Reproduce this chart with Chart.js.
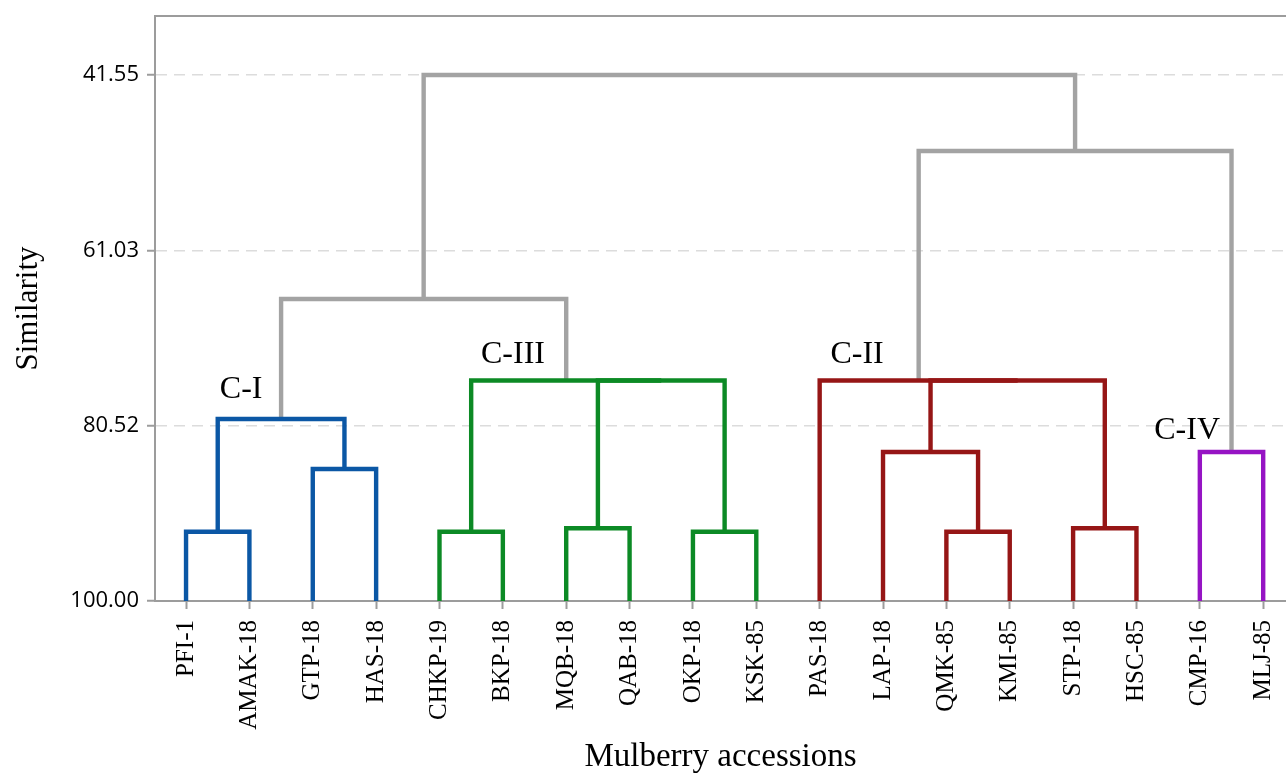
<!DOCTYPE html>
<html>
<head>
<meta charset="utf-8">
<title>Mulberry accessions dendrogram</title>
<script src="https://cdn.jsdelivr.net/npm/chart.js@4.4.1/dist/chart.umd.min.js"></script>
<style>
  html, body { margin: 0; padding: 0; background: #fff; }
  canvas { display: block; }
</style>
</head>
<body>
<canvas id="dendro" width="1286" height="774"></canvas>
<script>
// leaves, left to right
const accessions = ["PFI-1", "AMAK-18", "GTP-18", "HAS-18", "CHKP-19", "BKP-18", "MQB-18", "QAB-18",
  "OKP-18", "KSK-85", "PAS-18", "LAP-18", "QMK-85", "KMI-85", "STP-18", "HSC-85", "CMP-16", "MLJ-85"];

// merges: ids 0..17 are the leaves, merge m creates node id 18 + m
const mergeLeft   = [0, 2, 18, 4, 6, 8, 22, 21, 20, 12, 14, 11, 29, 10, 16, 31, 26];
const mergeRight  = [1, 3, 19, 5, 7, 9, 23, 24, 25, 13, 15, 27, 28, 30, 17, 32, 33];
const mergeHeight = [92.3, 85.33, 79.78, 92.3, 91.92, 92.3, 75.5, 75.5, 66.44,
  92.3, 91.92, 83.44, 75.5, 75.5, 83.44, 50.0, 41.55];
const mergeGroup  = ["C-I", "C-I", "C-I", "C-III", "C-III", "C-III", "C-III", "C-III", "none",
  "C-II", "C-II", "C-II", "C-II", "C-II", "C-IV", "none", "none"];

// y axis tick values (similarity)
const yTicks = [41.55, 61.03, 80.52, 100.00];

// cluster captions
const clusterNames = ["C-I", "C-III", "C-II", "C-IV"];
const clusterX = [0.87, 5.16, 10.59, 15.8];
const clusterY = [76.55, 72.66, 72.66, 81.11];

const groupColors = {
  "C-I": "#0b57a5",
  "C-III": "#0c8a25",
  "C-II": "#961616",
  "C-IV": "#9614c4",
  "none": "#a3a3a3"
};
const axisGray = "#9c9c9c";
const serif = "'Liberation Serif', 'Times New Roman', serif";

// build one polyline per merge (left leg, bar, right leg)
const nodeX = accessions.map((_, i) => i);
const nodeY = accessions.map(() => 100);
const datasets = [];
mergeLeft.forEach(function (l, m) {
  const r = mergeRight[m];
  const h = mergeHeight[m];
  datasets.push({
    data: [
      { x: nodeX[l], y: nodeY[l] },
      { x: nodeX[l], y: h },
      { x: nodeX[r], y: h },
      { x: nodeX[r], y: nodeY[r] }
    ],
    showLine: true,
    borderColor: groupColors[mergeGroup[m]],
    borderWidth: 4.4,
    borderJoinStyle: "miter",
    borderCapStyle: "butt",
    pointRadius: 0,
    tension: 0,
    fill: false
  });
  nodeX.push((nodeX[l] + nodeX[r]) / 2);
  nodeY.push(h);
});

// no extra room around the scales, the layout padding sets the frame
function noPadding(scale) {
  scale.paddingLeft = 0;
  scale.paddingRight = 0;
  scale.paddingTop = 0;
  scale.paddingBottom = 0;
}

// top frame line + cluster captions
const extras = {
  id: "extras",
  afterDatasetsDraw(chart) {
    const ctx = chart.ctx;
    const area = chart.chartArea;
    const xs = chart.scales.x, ys = chart.scales.y;
    ctx.save();
    ctx.strokeStyle = axisGray;
    ctx.lineWidth = 2;
    ctx.beginPath();
    ctx.moveTo(area.left, area.top);
    ctx.lineTo(area.right, area.top);
    ctx.stroke();

    ctx.fillStyle = "#000";
    ctx.font = "32px " + serif;
    ctx.textAlign = "center";
    ctx.textBaseline = "middle";
    clusterNames.forEach(function (name, i) {
      ctx.fillText(name, xs.getPixelForValue(clusterX[i]), ys.getPixelForValue(clusterY[i]));
    });
    ctx.restore();
  }
};

new Chart(document.getElementById("dendro"), {
  type: "scatter",
  data: { datasets: datasets },
  plugins: [extras],
  options: {
    responsive: false,
    animation: false,
    layout: { padding: { top: 16, left: 0, right: 0, bottom: 0 } },
    plugins: { legend: { display: false }, tooltip: { enabled: false } },
    scales: {
      x: {
        type: "linear",
        position: "bottom",
        min: -0.49,
        max: 17.36,
        afterBuildTicks: function (scale) {
          scale.ticks = accessions.map((_, i) => ({ value: i }));
        },
        afterFit: function (scale) { scale.height = 173; noPadding(scale); },
        ticks: {
          autoSkip: false,
          minRotation: 90,
          maxRotation: 90,
          padding: 11,
          color: "#000",
          font: { family: serif, size: 25 },
          callback: (v) => accessions[v]
        },
        grid: { drawOnChartArea: false, drawTicks: true, tickLength: 8, tickColor: axisGray, tickWidth: 2 },
        border: { color: axisGray, width: 2 },
        title: {
          display: true,
          text: "Mulberry accessions",
          color: "#000",
          font: { family: serif, size: 33 },
          padding: { top: 0, bottom: -3 }
        }
      },
      y: {
        type: "linear",
        reverse: true,
        min: 35,
        max: 100,
        afterBuildTicks: function (scale) {
          scale.ticks = yTicks.map((v) => ({ value: v }));
        },
        afterFit: function (scale) { scale.width = 155; noPadding(scale); },
        ticks: {
          padding: 8,
          color: "#000",
          font: { family: "'Open Sans', sans-serif", size: 22 },
          callback: (v) => Number(v).toFixed(2)
        },
        grid: {
          color: (c) => (c.tick && c.tick.value === 100 ? "rgba(0,0,0,0)" : "#dcdcdc"),
          lineWidth: 1.5,
          tickLength: 8,
          tickColor: axisGray,
          tickWidth: 2
        },
        border: { color: axisGray, width: 2, dash: [11, 7] },
        title: {
          display: true,
          text: "Similarity",
          color: "#000",
          font: { family: serif, size: 31 },
          padding: { top: 10, bottom: 0 }
        }
      }
    }
  }
});
</script>
</body>
</html>
